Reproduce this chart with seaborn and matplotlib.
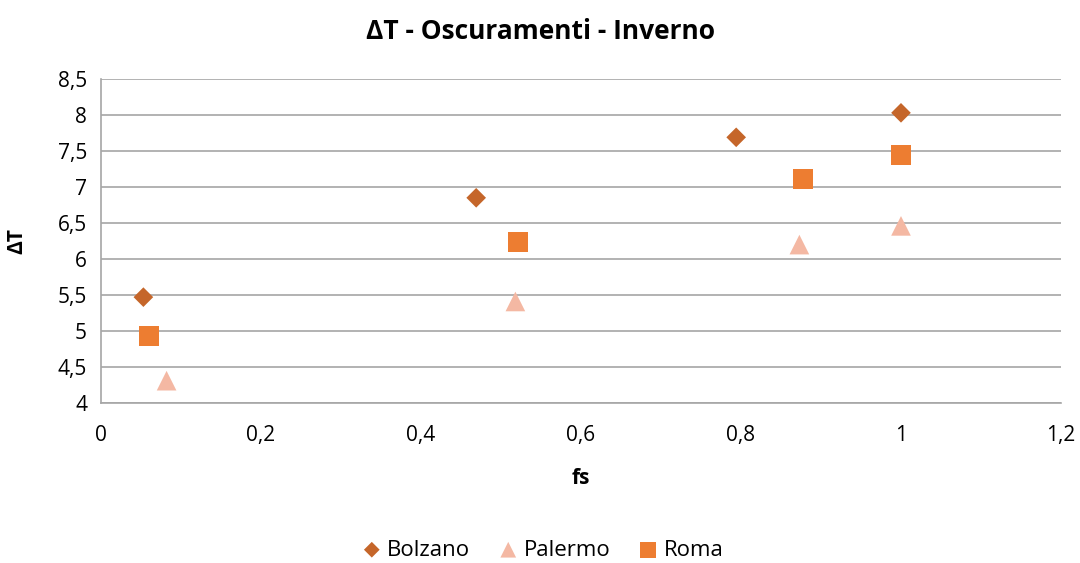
import matplotlib
matplotlib.use("Agg")
import matplotlib.pyplot as plt
from matplotlib.ticker import FuncFormatter, MultipleLocator
import pandas as pd
import seaborn as sns

# Series values (fs, ΔT) per city
bolzano_fs = [0.053, 0.469, 0.794, 1.0]
bolzano_dt = [5.47, 6.85, 7.69, 8.03]
palermo_fs = [0.082, 0.518, 0.873, 1.0]
palermo_dt = [4.31, 5.41, 6.20, 6.46]
roma_fs = [0.060, 0.521, 0.877, 1.0]
roma_dt = [4.93, 6.23, 7.11, 7.44]

cities = ["Bolzano", "Palermo", "Roma"]
colors = {"Bolzano": "#C5662A", "Palermo": "#F4B8A3", "Roma": "#ED7D31"}
markers = {"Bolzano": "D", "Palermo": "^", "Roma": "s"}
sizes = {"Bolzano": 100, "Palermo": 200, "Roma": 210}

df = pd.concat([
    pd.DataFrame({"fs": bolzano_fs, "dT": bolzano_dt, "città": "Bolzano"}),
    pd.DataFrame({"fs": palermo_fs, "dT": palermo_dt, "città": "Palermo"}),
    pd.DataFrame({"fs": roma_fs, "dT": roma_dt, "città": "Roma"}),
], ignore_index=True)

sns.set_theme(style="white")
plt.rcParams["font.family"] = ["Open Sans", "DejaVu Sans"]
plt.rcParams["text.color"] = "black"
plt.rcParams["axes.labelcolor"] = "black"

fig = plt.figure(figsize=(10.8, 5.63), dpi=100)
ax = fig.add_axes([0.0935, 0.2842, 0.8889, 0.5755])

for c in cities:
    sub = df[df["città"] == c]
    sns.scatterplot(data=sub, x="fs", y="dT", ax=ax, color=colors[c],
                    marker=markers[c], s=sizes[c], edgecolor="none",
                    linewidth=0, label=c, zorder=3)

ax.set_xlim(0, 1.2)
ax.set_ylim(4, 8.5)
ax.xaxis.set_major_locator(MultipleLocator(0.2))
ax.yaxis.set_major_locator(MultipleLocator(0.5))

def comma(v, pos):
    s = f"{v:.1f}".rstrip("0").rstrip(".")
    return s.replace(".", ",")

ax.xaxis.set_major_formatter(FuncFormatter(comma))
ax.yaxis.set_major_formatter(FuncFormatter(comma))

ax.grid(axis="y", color="#A6A6A6", linewidth=1.2)
ax.grid(axis="x", visible=False)
for side in ["top", "right"]:
    ax.spines[side].set_visible(False)
for side in ["left", "bottom"]:
    ax.spines[side].set_color("#A6A6A6")
    ax.spines[side].set_linewidth(1.2)

ax.tick_params(axis="both", length=0, labelsize=15, colors="black")
ax.tick_params(axis="x", pad=16)
ax.tick_params(axis="y", pad=10)

ax.set_xlabel("fs", fontsize=15, fontweight="bold", labelpad=16)
ax.set_ylabel("ΔT", fontsize=15, fontweight="bold", labelpad=22)
fig.suptitle("ΔT - Oscuramenti - Inverno", fontsize=19, fontweight="bold",
             x=0.5, y=0.968)

ax.get_legend().remove()
handles, labels = ax.get_legend_handles_labels()
fig.legend(handles, labels, loc="center", bbox_to_anchor=(0.5, 0.023),
           ncol=3, frameon=False, fontsize=16, handletextpad=0.0,
           columnspacing=1.0, markerscale=0.8, handlelength=1.4)

fig.savefig("out.png", dpi=100)
